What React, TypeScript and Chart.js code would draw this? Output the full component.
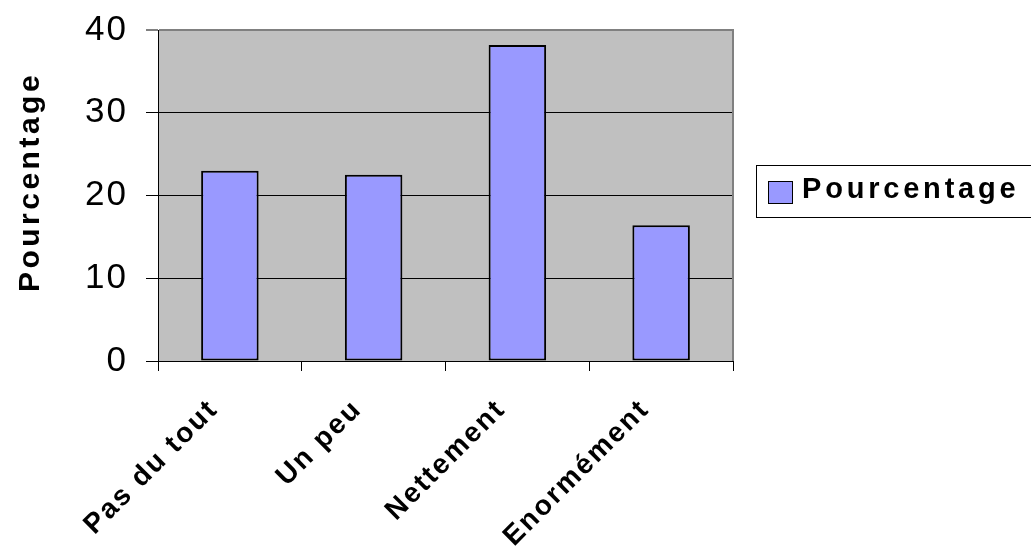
import React, { useEffect, useRef } from "react";
import { Chart, registerables } from "chart.js";

Chart.register(...registerables);

// Survey answers and their share of respondents (%)
const categories: string[] = ["Pas du tout", "Un peu", "Nettement", "Enormément"];
const percentages: number[] = [23.0, 22.5, 38.2, 16.4];
const seriesLabel = "Pourcentage";
const yTicks: number[] = [0, 10, 20, 30, 40];

const FONT = "'Liberation Sans', Arial, Helvetica, sans-serif";
const BAR_FILL = "#9999FF";
const PLOT_BG = "#C0C0C0";

// Extra letter spacing applied while each axis paints its tick labels
const axisSpacing: Record<string, string> = { x: "2.2px", y: "2px" };

const framePlugin = {
  id: "frame",
  beforeDraw(chart: any) {
    const { ctx, chartArea } = chart;
    ctx.save();
    ctx.fillStyle = PLOT_BG;
    ctx.fillRect(chartArea.left, chartArea.top, chartArea.right - chartArea.left, chartArea.bottom - chartArea.top);
    ctx.restore();

    for (const id of Object.keys(axisSpacing)) {
      const sc: any = chart.scales[id];
      if (sc && !sc.__spaced) {
        const orig = sc.drawLabels.bind(sc);
        sc.drawLabels = (area: any) => {
          const c = chart.ctx;
          c.save();
          c.letterSpacing = axisSpacing[id];
          orig(area);
          c.restore();
        };
        sc.__spaced = true;
      }
    }
  },
  afterDatasetsDraw(chart: any) {
    const { ctx, chartArea } = chart;
    ctx.save();
    ctx.strokeStyle = "#808080";
    ctx.lineWidth = 2;
    ctx.beginPath();
    ctx.moveTo(chartArea.right, chartArea.top - 1);
    ctx.lineTo(chartArea.right, chartArea.bottom);
    ctx.stroke();
    ctx.restore();
  },
  afterDraw(chart: any) {
    const { ctx } = chart;
    const ds = chart.data.datasets[0];

    // vertical axis title
    ctx.save();
    ctx.translate(31, 184);
    ctx.rotate(-Math.PI / 2);
    ctx.font = `bold 30px ${FONT}`;
    ctx.letterSpacing = "3.5px";
    ctx.fillStyle = "#000";
    ctx.textAlign = "center";
    ctx.textBaseline = "middle";
    ctx.fillText(ds.label, 2, 0);
    ctx.restore();

    // legend box
    ctx.save();
    ctx.fillStyle = "#FFFFFF";
    ctx.fillRect(756.5, 165.5, 300, 52);
    ctx.strokeStyle = "#000";
    ctx.lineWidth = 1;
    ctx.strokeRect(756.5, 165.5, 300, 52);
    ctx.fillStyle = ds.backgroundColor;
    ctx.fillRect(768.5, 181.5, 24, 22);
    ctx.strokeRect(768.5, 181.5, 24, 22);
    ctx.font = `bold 29px ${FONT}`;
    ctx.letterSpacing = "3.8px";
    ctx.fillStyle = "#000";
    ctx.textAlign = "left";
    ctx.textBaseline = "alphabetic";
    ctx.fillText(ds.label, 802, 197.5);
    ctx.restore();
  },
};

// keep the plot area fixed regardless of how far tick labels overhang
const noOverhang = (scale: any) => {
  scale.paddingTop = 0;
  scale.paddingBottom = 0;
  scale.paddingLeft = 0;
  scale.paddingRight = 0;
};

export default function App() {
  const canvasRef = useRef<HTMLCanvasElement>(null);

  useEffect(() => {
    if (!canvasRef.current) return;
    const chart = new Chart(canvasRef.current, {
      type: "bar",
      data: {
        labels: categories,
        datasets: [
          {
            label: seriesLabel,
            data: percentages,
            backgroundColor: BAR_FILL,
            borderColor: "#000000",
            borderWidth: 2,
            borderSkipped: false,
            categoryPercentage: 1,
            barPercentage: 0.4,
          },
        ],
      },
      options: {
        animation: false,
        responsive: true,
        maintainAspectRatio: false,
        layout: { padding: { top: 30, right: 298, left: 0, bottom: 0 } },
        plugins: {
          legend: { display: false },
          tooltip: { enabled: false },
        },
        scales: {
          x: {
            offset: true,
            grid: {
              drawOnChartArea: false,
              offset: true,
              tickLength: 10,
              color: "#000000",
            },
            border: { color: "#000000", width: 1 },
            ticks: {
              minRotation: 45,
              maxRotation: 45,
              autoSkip: false,
              padding: 22,
              labelOffset: -16,
              color: "#000000",
              font: { family: FONT, size: 28, weight: "bold" },
            },
            afterFit: (scale: any) => {
              scale.height = 185;
              noOverhang(scale);
            },
          },
          y: {
            min: 0,
            max: 40,
            afterBuildTicks: (scale: any) => {
              scale.ticks = yTicks.map((v) => ({ value: v }));
            },
            grid: {
              color: (c: any) => (c.tick && c.tick.value === 40 ? "#808080" : "#000000"),
              lineWidth: (c: any) => (c.tick && c.tick.value === 40 ? 2 : 1),
              tickColor: "#000000",
              tickWidth: 1,
              tickLength: 12,
            },
            border: { color: "#000000", width: 1 },
            ticks: {
              padding: 18,
              color: "#000000",
              font: { family: FONT, size: 35 },
            },
            afterFit: (scale: any) => {
              scale.width = 158;
              noOverhang(scale);
            },
          },
        },
      },
      plugins: [framePlugin],
    });
    return () => chart.destroy();
  }, []);

  return (
    <div style={{ position: "absolute", left: 0, top: 0, width: 1031, height: 546, background: "#fff" }}>
      <canvas ref={canvasRef} />
    </div>
  );
}
